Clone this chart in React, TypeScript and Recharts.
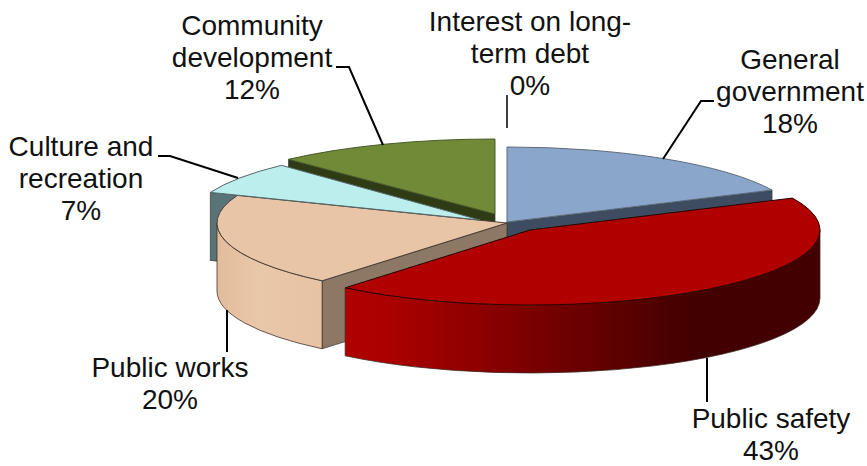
import { PieChart, Pie } from 'recharts'

const CATEGORIES = [
  'Interest on long-term debt',
  'General government',
  'Public safety',
  'Public works',
  'Culture and recreation',
  'Community development',
]
const SHARES = [0, 18, 43, 20, 7, 12]
const LABEL_LINES = [
  ['Interest on long-', 'term debt'],
  ['General', 'government'],
  ['Public safety'],
  ['Public works'],
  ['Culture and', 'recreation'],
  ['Community', 'development'],
]

const WIDTH = 867
const HEIGHT = 466
const CENTER_X = 507
const CENTER_Y = 222
const RADIUS = 290
const SQUASH = 75 / 290 // tilt of the disc
const DEPTH = 68
const FONT = '"Liberation Sans", Arial, sans-serif'

// dx/dy pull a slice out of the disc, grow widens it a little
const SLICE_STYLE: Record<string, any> = {
  'Interest on long-term debt': { dx: 0, dy: 0, grow: 1, top: '#ffffff', side: '#ffffff', stroke: '#ffffff' },
  'General government': { dx: 0, dy: 0, grow: 1.01, top: '#8aa6cb', side: '#3d4c60', stroke: '#5f6b7a' },
  'Public safety': { dx: 23, dy: 8, grow: 1, top: '#b00000', side: '#b00000', stroke: '#2a0000', wall: 'url(#safetyWall)' },
  'Public works': { dx: 0, dy: 1, grow: 1, top: '#e8c5a6', side: '#8c7864', stroke: '#4a4038', wall: 'url(#worksWall)' },
  'Culture and recreation': { dx: -27, dy: -2, grow: 1, top: '#bceeee', side: '#5a7577', stroke: '#55686a' },
  'Community development': { dx: -12, dy: -8, grow: 1.04, top: '#708a38', side: '#2e3b14', stroke: '#4a5a28' },
}

const LABEL_LAYOUT: Record<string, any> = {
  'Interest on long-term debt': { x: 530, y: 31, leader: '507,95 507,128' },
  'General government': { x: 790, y: 69, leader: '663,159 701,101 714,101' },
  'Public safety': { x: 771, y: 428, leader: '707,358 707,402' },
  'Public works': { x: 170, y: 377, leader: '227,310 227,352' },
  'Culture and recreation': { x: 81, y: 156, leader: '238,178 170,156 158,156' },
  'Community development': { x: 252, y: 35, leader: '383,145 349,67 336,67' },
}

const chartData = CATEGORIES.map((name, i) => ({ name, value: SHARES[i] }))

// Recharts angles run counter-clockwise from 3 o'clock, the disc is read clockwise from 12
const toClock = (angle: number) => ((90 - angle) * Math.PI) / 180

function Gradients() {
  return (
    <defs>
      <linearGradient id="safetyWall" x1="0" x2="1" y1="0" y2="0">
        <stop offset="0" stopColor="#b00000" />
        <stop offset="0.1" stopColor="#aa0000" />
        <stop offset="0.74" stopColor="#420000" />
        <stop offset="1" stopColor="#420000" />
      </linearGradient>
      <linearGradient id="worksWall" x1="0" x2="1" y1="0" y2="0">
        <stop offset="0" stopColor="#e2bc9b" />
        <stop offset="0.4" stopColor="#e9c7a9" />
        <stop offset="1" stopColor="#e7c3a4" />
      </linearGradient>
    </defs>
  )
}

// walls lists the slices whose sides this layer paints, an empty list paints the upper faces
function renderSlice(props: any, walls: string[]) {
  const { cx, cy, outerRadius, startAngle, endAngle, name, payload } = props
  const key = name ?? payload?.name
  const style = SLICE_STYLE[key]
  if (!style || startAngle === endAngle) return <g />

  const ox = cx + style.dx
  const oy = cy + style.dy
  const rx = outerRadius * style.grow
  const ry = outerRadius * SQUASH
  const from = toClock(startAngle)
  const to = toClock(endAngle)
  const point = (t: number, drop = 0) => [ox + rx * Math.sin(t), oy - ry * Math.cos(t) + drop]
  const [ax, ay] = point(from)
  const [bx, by] = point(to)
  const large = to - from > Math.PI ? 1 : 0

  if (walls.length === 0) {
    return (
      <path
        d={`M${ox},${oy} L${ax},${ay} A${rx},${ry} 0 ${large} 1 ${bx},${by} Z`}
        fill={style.top}
        stroke={style.stroke}
        strokeWidth={1}
        strokeLinejoin="round"
      />
    )
  }
  if (!walls.includes(key)) return <g />

  const parts = []
  // radial cut faces, only the ones turned towards the viewer
  const cuts = [
    Math.sin(from) < -0.01 ? [ax, ay] : null,
    Math.sin(to) > 0.01 ? [bx, by] : null,
  ]
  cuts.forEach((cut, i) => {
    if (!cut) return
    parts.push(
      <path
        key={i}
        d={`M${ox},${oy} L${cut[0]},${cut[1]} L${cut[0]},${cut[1] + DEPTH} L${ox},${oy + DEPTH} Z`}
        fill={style.side}
        stroke="#3a3a3a"
        strokeWidth={0.75}
      />,
    )
  })
  // rim, only the part of the arc on the near side of the disc
  const rimFrom = Math.max(from, Math.PI / 2)
  const rimTo = Math.min(to, (Math.PI * 3) / 2)
  if (style.wall && rimTo > rimFrom) {
    const [px, py] = point(rimFrom)
    const [qx, qy] = point(rimTo)
    parts.push(
      <path
        key="rim"
        d={`M${px},${py} A${rx},${ry} 0 0 1 ${qx},${qy} L${qx},${qy + DEPTH} A${rx},${ry} 0 0 0 ${px},${py + DEPTH} Z`}
        fill={style.wall}
        stroke="#3a2a22"
        strokeWidth={0.75}
      />,
    )
  }
  return <g>{parts}</g>
}

function renderLabel(props: any) {
  const { index } = props
  const name = CATEGORIES[index]
  const layout = LABEL_LAYOUT[name]
  const lines = [...LABEL_LINES[index], `${SHARES[index]}%`]
  return (
    <g key={name}>
      <polyline points={layout.leader} fill="none" stroke="#000" strokeWidth={name.startsWith('Interest') ? 1.5 : 2} />
      <text x={layout.x} y={layout.y} textAnchor="middle" fontFamily={FONT} fontSize={28} fill="#111">
        {lines.map((line, i) => (
          <tspan key={line} x={layout.x} y={layout.y + i * 32}>
            {line}
          </tspan>
        ))}
      </text>
    </g>
  )
}

const pieProps = {
  data: chartData,
  dataKey: 'value',
  nameKey: 'name',
  cx: CENTER_X,
  cy: CENTER_Y,
  innerRadius: 0,
  outerRadius: RADIUS,
  startAngle: 90,
  endAngle: -270,
  stroke: 'none',
  isAnimationActive: false,
  labelLine: false,
}

// side walls are painted far to near, the upper faces go over all of them
const WALL_LAYERS = [
  ['General government', 'Culture and recreation', 'Community development'],
  ['Public works'],
  ['Public safety'],
]

export default function App() {
  return (
    <div style={{ position: 'absolute', left: 0, top: 0, width: WIDTH, height: HEIGHT, background: '#fff' }}>
      <PieChart width={WIDTH} height={HEIGHT} margin={{ top: 0, right: 0, bottom: 0, left: 0 }}>
        <Gradients />
        {WALL_LAYERS.map((walls) => (
          <Pie key={walls[0]} {...pieProps} shape={(p: any) => renderSlice(p, walls)} />
        ))}
        <Pie {...pieProps} shape={(p: any) => renderSlice(p, [])} label={renderLabel} />
      </PieChart>
    </div>
  )
}
